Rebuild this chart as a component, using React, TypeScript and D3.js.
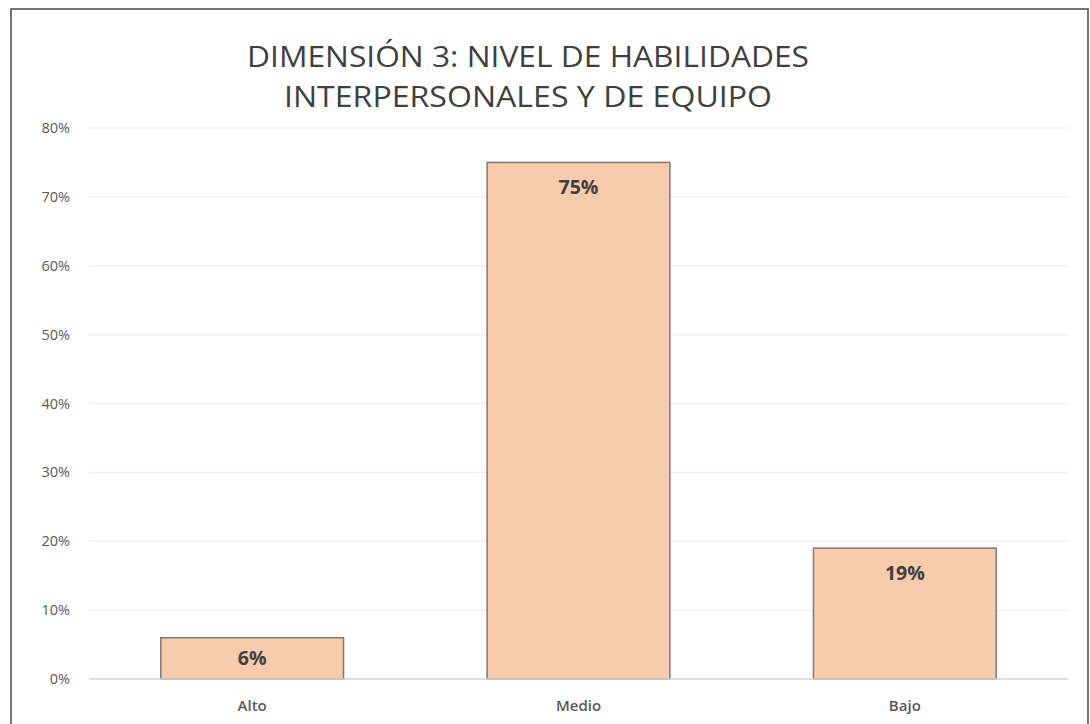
import React, { useEffect, useRef } from 'react';
import * as d3 from 'd3';

const categories = ['Alto', 'Medio', 'Bajo'];
const values = [0.06, 0.75, 0.19];
const yTicks = [0, 0.1, 0.2, 0.3, 0.4, 0.5, 0.6, 0.7, 0.8];
const titleLines = ['DIMENSIÓN 3: NIVEL DE HABILIDADES', 'INTERPERSONALES Y DE EQUIPO'];

export default function App() {
  const svgRef = useRef<SVGSVGElement>(null);

  useEffect(() => {
    document.body.style.margin = '0';
    if (!svgRef.current) return;

    const svg = d3.select(svgRef.current);
    svg.selectAll('*').remove();

    const width = 1090;
    const height = 724;
    const font = "'Open Sans', 'Noto Sans', sans-serif";

    svg.append('rect')
      .attr('width', width).attr('height', height).attr('fill', '#fff');

    // outer frame
    svg.append('rect')
      .attr('x', 11).attr('y', 9)
      .attr('width', 1077).attr('height', 720)
      .attr('fill', 'none')
      .attr('stroke', '#4a4a4a')
      .attr('stroke-width', 1.5);

    const x = d3.scaleBand()
      .domain(categories)
      .range([89, 1068])
      .paddingInner(0.44)
      .paddingOuter(0.22);

    const y = d3.scaleLinear()
      .domain([0, 0.8])
      .range([679, 128]);

    // gridlines
    svg.append('g')
      .selectAll('line')
      .data(yTicks.filter(t => t > 0))
      .enter()
      .append('line')
      .attr('x1', 89).attr('x2', 1068)
      .attr('y1', d => y(d)).attr('y2', d => y(d))
      .attr('stroke', '#efefef')
      .attr('stroke-width', 1.5);

    // tick labels
    svg.append('g')
      .selectAll('text')
      .data(yTicks)
      .enter()
      .append('text')
      .attr('x', 70)
      .attr('y', d => y(d))
      .attr('dy', '0.35em')
      .attr('text-anchor', 'end')
      .attr('font-family', font)
      .attr('font-size', 14.5)
      .attr('fill', '#595959')
      .text(d => d3.format('.0%')(d));

    // bars
    svg.append('g')
      .selectAll('rect')
      .data(values)
      .enter()
      .append('rect')
      .attr('x', (d, i) => x(categories[i])!)
      .attr('y', d => y(d))
      .attr('width', x.bandwidth())
      .attr('height', d => y(0) - y(d))
      .attr('fill', '#F8CBAD')
      .attr('stroke', '#7a7a7a')
      .attr('stroke-width', 1.5);

    // baseline
    svg.append('line')
      .attr('x1', 89).attr('x2', 1068)
      .attr('y1', y(0)).attr('y2', y(0))
      .attr('stroke', '#d4d4d4')
      .attr('stroke-width', 1.5);

    // data labels (inside end, centred when the bar is short)
    svg.append('g')
      .selectAll('text')
      .data(values)
      .enter()
      .append('text')
      .attr('x', (d, i) => x(categories[i])! + x.bandwidth() / 2)
      .attr('y', d => y(d) + Math.min(25, (y(0) - y(d)) / 2))
      .attr('dy', '0.35em')
      .attr('text-anchor', 'middle')
      .attr('font-family', font)
      .attr('font-size', 19.5)
      .attr('font-weight', 'bold')
      .attr('fill', '#404040')
      .text(d => d3.format('.0%')(d));

    // category labels
    svg.append('g')
      .selectAll('text')
      .data(categories)
      .enter()
      .append('text')
      .attr('x', d => x(d)! + x.bandwidth() / 2)
      .attr('y', 706)
      .attr('dy', '0.35em')
      .attr('text-anchor', 'middle')
      .attr('font-family', font)
      .attr('font-size', 15)
      .attr('font-weight', 600)
      .attr('fill', '#595959')
      .text(d => d);

    // title
    const titleWidths = [562, 488];
    svg.append('g')
      .selectAll('text')
      .data(titleLines)
      .enter()
      .append('text')
      .attr('x', 528)
      .attr('y', (d, i) => 67 + i * 40)
      .attr('text-anchor', 'middle')
      .attr('font-family', font)
      .attr('font-size', 29)
      .attr('fill', '#404040')
      .attr('textLength', (d, i) => titleWidths[i])
      .attr('lengthAdjust', 'spacingAndGlyphs')
      .text(d => d);
  }, []);

  return <svg ref={svgRef} width={1090} height={724} style={{ display: 'block' }}></svg>;
}
